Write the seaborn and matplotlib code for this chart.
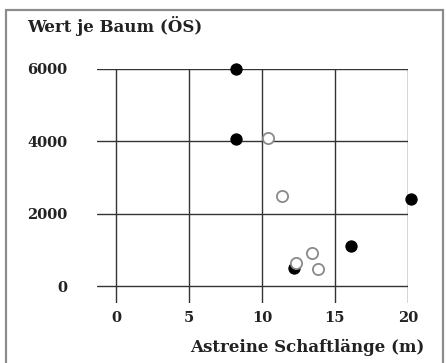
import matplotlib
matplotlib.use("Agg")
import matplotlib.pyplot as plt
import seaborn as sns
import pandas as pd
from matplotlib.patches import Rectangle

# Data
filled_x = [8.2, 8.2, 20.2, 16.1, 12.2]
filled_y = [6000, 4060, 2400, 1110, 510]
open_x = [10.4, 11.35, 13.4, 13.85, 12.3]
open_y = [4100, 2490, 920, 460, 630]
x_ticks = [0, 5, 10, 15, 20]
y_ticks = [0, 2000, 4000, 6000]
y_title = "Wert je Baum (ÖS)"
x_title = "Astreine Schaftlänge (m)"

df_filled = pd.DataFrame({"x": filled_x, "y": filled_y})
df_open = pd.DataFrame({"x": open_x, "y": open_y})

sns.set_theme(style="white")
plt.rcParams["font.family"] = ["DejaVu Serif"]

FS = 10.5
FT = 12
W, H = 446, 363
fig = plt.figure(figsize=(W / 100, H / 100), dpi=100)
ax = fig.add_axes([97 / W, 1 - 303 / H, (408 - 97) / W, (303 - 69) / H])

sns.scatterplot(data=df_filled, x="x", y="y", ax=ax, s=65, color="black",
                edgecolor="black", linewidth=0.8, zorder=5, clip_on=False)
sns.scatterplot(data=df_open, x="x", y="y", ax=ax, s=65, facecolor="white",
                edgecolor="#8a8a8a", linewidth=1.3, zorder=5, clip_on=False)

ax.set_xlim(-1.3, 20)
ax.set_ylim(-470, 6000)
ax.set_xticks(x_ticks)
ax.set_yticks(y_ticks)
ax.set_xticklabels([str(v) for v in x_ticks])
ax.set_yticklabels([str(v) for v in y_ticks])
ax.grid(True, color="#333333", linewidth=1.0)
ax.set_axisbelow(True)
for s in ax.spines.values():
    s.set_visible(False)
ax.tick_params(axis="both", length=0, labelsize=FS, colors="#222222")
ax.tick_params(axis="x", pad=6)
ax.tick_params(axis="y", pad=21.5)
for lbl in ax.get_xticklabels() + ax.get_yticklabels():
    lbl.set_fontweight("bold")
ax.set_xlabel("")
ax.set_ylabel("")

fig.text(27 / W, 1 - 26 / H, y_title, ha="left", va="center",
         fontsize=FT, fontweight="bold", color="#222222")
fig.text(424 / W, 1 - 347 / H, x_title, ha="right", va="center",
         fontsize=FT, fontweight="bold", color="#222222")

frame = Rectangle((6 / W, -0.05), (443 - 6) / W, 1 - 10 / H + 0.05,
                  transform=fig.transFigure, fill=False, edgecolor="#8c8c8c",
                  linewidth=1.6, clip_on=False)
fig.patches.append(frame)

fig.savefig("out.png", dpi=100)
